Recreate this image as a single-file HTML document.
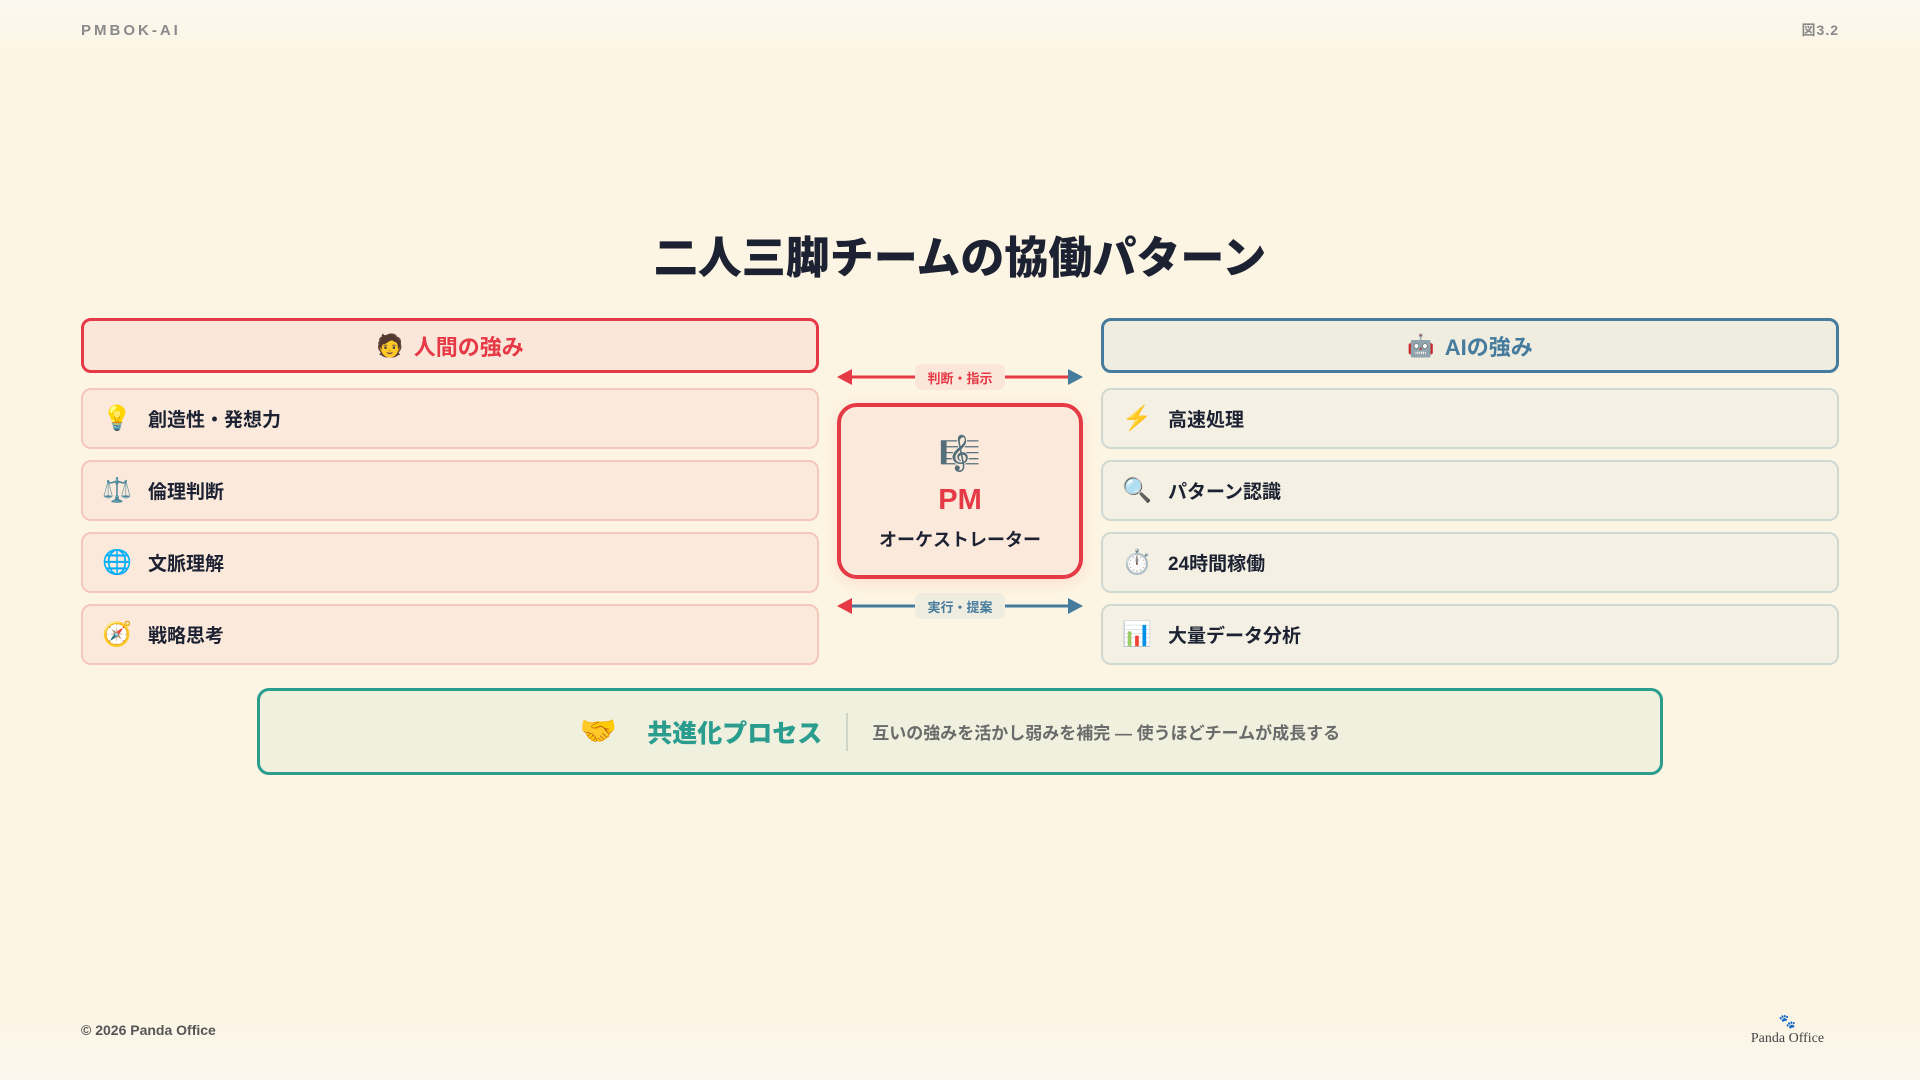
<!DOCTYPE html>
<html><head><meta charset="utf-8"><style>
*{margin:0;padding:0;box-sizing:border-box}
body{width:1920px;height:1080px;overflow:hidden;background:linear-gradient(#fbf8f0 0,#fdf5e3 60px,#fdf5e3 1000px,#faf6ee 1080px);font-family:"Liberation Sans","Noto Sans CJK JP",sans-serif;position:relative;color:#1d2233}
.abs{position:absolute}
.hdr{position:absolute;top:318px;height:55px;width:738px;border-radius:10px;display:flex;align-items:center;justify-content:center;font-size:22px;font-weight:700;gap:10px}
.item{position:absolute;height:61px;width:738px;border-radius:10px;display:flex;align-items:center;font-size:19px;font-weight:700}
.item .ic{width:36px;text-align:center;margin-left:16px;margin-right:13px;font-size:24px}
.L{left:81px}.R{left:1101px}
.Li{background:#fbeadb;border:2px solid #f5c6bb}
.Ri{background:#f4f0e3;border:2px solid #d0d8d2}
.lbl{position:absolute;left:915px;width:90px;height:26px;border-radius:7px;font-size:13px;font-weight:700;display:flex;align-items:center;justify-content:center}
</style></head><body>
<div class="abs" style="left:81px;top:22px;font-size:15px;font-weight:700;letter-spacing:3px;color:#8a8a8a">PMBOK-AI</div>
<div class="abs" style="right:81px;top:20px;font-size:14px;font-weight:700;letter-spacing:1px;color:#8a8a8a">図3.2</div>
<div class="abs" style="left:0;width:1920px;top:222px;text-align:center;font-size:44px;font-weight:900;color:#1d2233">二人三脚チームの協働パターン</div>

<div class="hdr L" style="background:#fbe6da;border:3px solid #e63946;color:#e63946"><span>🧑</span><span>人間の強み</span></div>
<div class="hdr R" style="background:#efece0;border:3px solid #457b9d;color:#457b9d"><span>🤖</span><span>AIの強み</span></div>

<div class="item L Li" style="top:388px"><span class="ic">💡</span>創造性・発想力</div>
<div class="item L Li" style="top:460px"><span class="ic">⚖️</span>倫理判断</div>
<div class="item L Li" style="top:532px"><span class="ic">🌐</span>文脈理解</div>
<div class="item L Li" style="top:604px"><span class="ic">🧭</span>戦略思考</div>
<div class="item R Ri" style="top:388px"><span class="ic">⚡</span>高速処理</div>
<div class="item R Ri" style="top:460px"><span class="ic">🔍</span>パターン認識</div>
<div class="item R Ri" style="top:532px"><span class="ic">⏱️</span>24時間稼働</div>
<div class="item R Ri" style="top:604px"><span class="ic">📊</span>大量データ分析</div>

<svg class="abs" style="left:0;top:0" width="1920" height="1080">
<line x1="850" y1="377" x2="1072" y2="377" stroke="#e63946" stroke-width="3"/>
<polygon points="837,377 852,369 852,385" fill="#e63946"/>
<polygon points="1083,377 1068,369 1068,385" fill="#457b9d"/>
<line x1="850" y1="606" x2="1072" y2="606" stroke="#457b9d" stroke-width="3"/>
<polygon points="837,606 852,598 852,614" fill="#e63946"/>
<polygon points="1083,606 1068,598 1068,614" fill="#457b9d"/>
</svg>
<div class="lbl" style="top:364px;background:#fbe6da;color:#e63946">判断・指示</div>
<div class="lbl" style="top:593px;background:#efece0;color:#457b9d">実行・提案</div>

<div class="abs" style="left:837px;top:403px;width:246px;height:176px;border:4px solid #e63946;border-radius:20px;background:#fbe9dc;box-shadow:0 4px 16px rgba(230,57,70,.12);text-align:center">
<div style="font-size:34px;margin-top:27px;line-height:40px">🎼</div>
<div style="font-size:29px;font-weight:900;color:#e63946;line-height:36px;margin-top:8px">PM</div>
<div style="font-size:18px;font-weight:700;line-height:26px;margin-top:9px">オーケストレーター</div>
</div>

<div class="abs" style="left:257px;top:688px;width:1406px;height:87px;border:3px solid #2a9d8f;border-radius:12px;background:#f0f0df;display:flex;align-items:center;justify-content:center">
<span style="font-size:30px;margin-right:30px">🤝</span>
<span style="font-size:25px;font-weight:900;color:#2a9d8f">共進化プロセス</span>
<span style="width:2px;height:38px;background:#cfd6c8;margin:0 24px"></span>
<span style="font-size:17px;font-weight:700;color:#6b6b6b">互いの強みを活かし弱みを補完 — 使うほどチームが成長する</span>
</div>

<div class="abs" style="left:81px;top:1022px;font-size:14px;font-weight:700;color:#555">© 2026 Panda Office</div>
<div class="abs" style="left:1740px;top:1015px;width:95px;text-align:center;font-family:'Liberation Serif',serif;font-size:14px;color:#444;line-height:16px"><div>🐾</div>Panda Office</div>
</body></html>
